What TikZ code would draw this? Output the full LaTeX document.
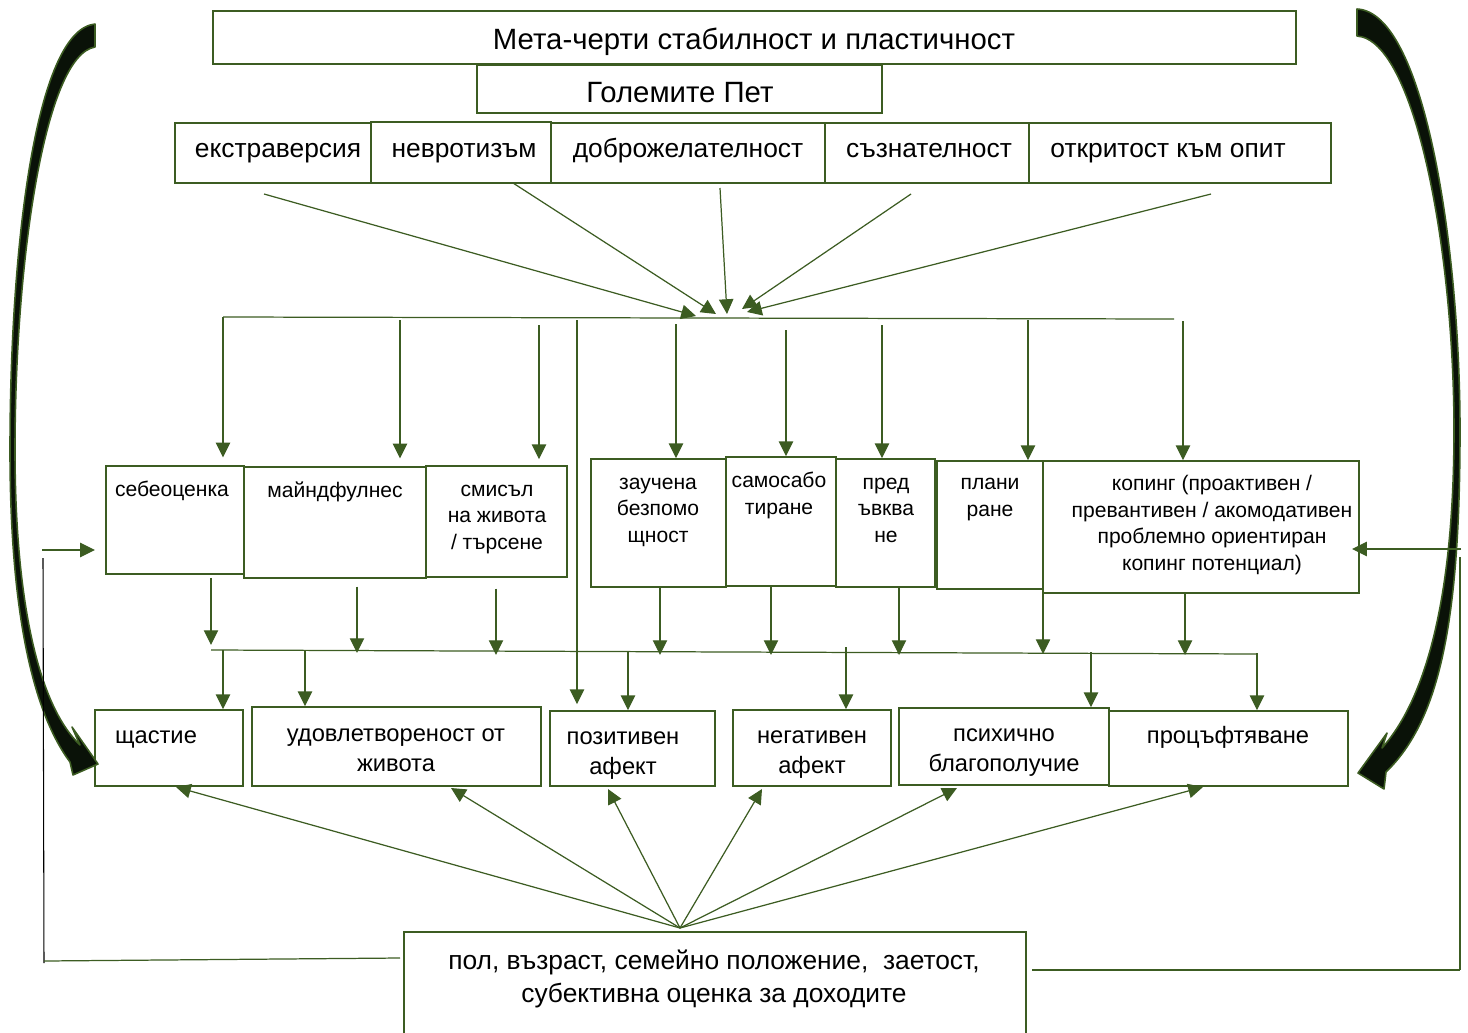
\documentclass[tikz,border=0pt]{standalone}
\usepackage{fontspec}
\setmainfont{Liberation Sans}
\usetikzlibrary{arrows.meta,fit}
\definecolor{grn}{RGB}{60,92,34}
\definecolor{blk}{RGB}{10,18,8}

\begin{document}
\begin{tikzpicture}[x=0.02cm,y=-0.02cm,
		box/.style={draw=grn, line width=0.9pt, inner sep=0pt},
		ln/.style={draw=grn, line width=0.7pt},
		arr/.style={ln, -{Triangle[length=8.4pt,width=8.2pt]}},
		swoop/.style={fill=blk, draw=grn, line width=0.9pt, line join=round},
		txt/.style={inner sep=0pt, anchor=base, align=center},
		topf/.style={txt, font=\fontsize{16.7}{20}\selectfont},
		fivef/.style={txt, font=\fontsize{15}{18}\selectfont},
		midf/.style={txt, font=\fontsize{12}{15}\selectfont},
		lowf/.style={txt, font=\fontsize{13.5}{17}\selectfont},
		demof/.style={txt, font=\fontsize{15}{18.7}\selectfont}]
				\useasboundingbox (0,0) rectangle (1468,1032);
				%defs
				\coordinate (f1) at (264,194);
				\coordinate (f2) at (513,183);
				\coordinate (f3) at (720,188);
				\coordinate (f4) at (911,194);
				\coordinate (f5) at (1211,194);
				\coordinate (h1) at (696,316);
				\coordinate (h2) at (716,314);
				\coordinate (h3) at (727,314);
				\coordinate (h4) at (742,309);
				\coordinate (h5) at (747,312);
				\coordinate (bus1l) at (223,317);
				\coordinate (bus1r) at (1174,319);
				\coordinate (d1) at (223,317);
				\coordinate (d2) at (400,320);
				\coordinate (d3) at (539,325);
				\coordinate (d4) at (577,320);
				\coordinate (d5) at (676,324);
				\coordinate (d6) at (786,330);
				\coordinate (d7) at (882,325);
				\coordinate (d8) at (1028,320);
				\coordinate (d9) at (1183,321);
				\coordinate (e1) at (211,645);
				\coordinate (e2) at (357,653);
				\coordinate (e3) at (496,655);
				\coordinate (e4) at (660,655);
				\coordinate (e5) at (771,655);
				\coordinate (e6) at (899,655);
				\coordinate (e7) at (1043,654);
				\coordinate (e8) at (1185,655);
				\coordinate (bus2l) at (211,650);
				\coordinate (bus2r) at (1257,654);
				\coordinate (g1) at (223,650);
				\coordinate (g2) at (305,650);
				\coordinate (g3) at (628,652);
				\coordinate (g4) at (846,647);
				\coordinate (g5) at (1091,652);
				\coordinate (g6) at (1257,653);
				\coordinate (apex) at (680,928);
				\coordinate (t1) at (176,787);
				\coordinate (t2) at (451,788);
				\coordinate (t3) at (608,789);
				\coordinate (t4) at (762,789);
				\coordinate (t5) at (957,788);
				\coordinate (t6) at (1203,787);
				\coordinate (lv1) at (43,558);
				\coordinate (lv2) at (44,963);
				\coordinate (lh1) at (44,961);
				\coordinate (lh2) at (400,958);
				\coordinate (la) at (42,550);
				\coordinate (la-e) at (95,550);
				\coordinate (ra) at (1461,549);
				\coordinate (ra-e) at (1352,549);
				\coordinate (rv1) at (1460,557);
				\coordinate (rv2) at (1460,970);
				\coordinate (rh1) at (1032,970);
				%boxes
				\node[box, fit={(213,11) (1296,64)}] (meta) {};
				\node[box, fit={(477,65) (882,113)}] (big5) {};
				\node[box, fit={(175,123) (371,183)}] (extra) {};
				\node[box, fit={(371,122) (551,183)}] (neuro) {};
				\node[box, fit={(551,123) (825,183)}] (agree) {};
				\node[box, fit={(825,123) (1029,183)}] (consc) {};
				\node[box, fit={(1029,123) (1331,183)}] (open) {};
				\node[box, fit={(106,466) (244,574)}] (sebe) {};
				\node[box, fit={(244,467) (426,578)}] (mind) {};
				\node[box, fit={(426,466) (567,577)}] (mean) {};
				\node[box, fit={(591,459) (726,587)}] (help) {};
				\node[box, fit={(726,457) (836,586)}] (sabo) {};
				\node[box, fit={(836,459) (935,587)}] (rumi) {};
				\node[box, fit={(937,461) (1043,589)}] (plan) {};
				\node[box, fit={(1043,461) (1359,593)}] (cope) {};
				\node[box, fit={(95,710) (243,786)}] (hap) {};
				\node[box, fit={(252,707) (541,786)}] (sat) {};
				\node[box, fit={(550,711) (715,786)}] (pos) {};
				\node[box, fit={(733,710) (891,786)}] (neg) {};
				\node[box, fit={(899,708) (1109,785)}] (well) {};
				\node[box, fit={(1109,711) (1348,786)}] (flour) {};
				\node[box, fit={(404,932) (1026,1050)}] (demo) {};
				%big arrows
				\filldraw[swoop] (95,24) .. controls (35,30) and (10,250) .. (10,450)
					.. controls (10,620) and (35,715) .. (70,762)
					-- (73,775) -- (98,764) -- (72,727) -- (80,745)
					.. controls (38,705) and (15,600) .. (15,450)
					.. controls (15,260) and (45,55) .. (95,47) -- cycle;
				\filldraw[swoop] (1357,9) .. controls (1425,12) and (1460,250) .. (1460,430)
					.. controls (1460,620) and (1440,720) .. (1386,772)
					-- (1384,789) -- (1358,773) -- (1387,733) -- (1382,748)
					.. controls (1425,700) and (1454,600) .. (1454,430)
					.. controls (1454,250) and (1415,40) .. (1357,36) -- cycle;
				%lines
				\foreach \i in {1,...,5}
					\draw[arr] (f\i) -- (h\i);
				\draw[ln] (bus1l) -- (bus1r);
				\foreach \c/\n/\s in {d1/sebe/4.5pt, d2/mind/4.5pt, d3/mean/3.4pt, d4/pos/3.4pt, d5/help/0pt, d6/sabo/0pt, d7/rumi/0pt, d8/plan/0pt, d9/cope/0pt}
					\draw[arr, shorten >=\s] (\c) -- (\c |- \n.north);
				\foreach \c/\n/\s in {e1/sebe/1.7pt, e2/mind/4.5pt, e3/mean/6.2pt, e4/help/0pt, e5/sabo/0pt, e6/rumi/0pt, e7/plan/0pt, e8/cope/0pt}
					\draw[arr, shorten <=\s] (\n.south -| \c) -- (\c);
				\draw[ln] (bus2l) -- (bus2r);
				\foreach \c/\n in {g1/hap, g2/sat, g3/pos, g4/neg, g5/well, g6/flour}
					\draw[arr] (\c) -- (\c |- \n.north);
				\foreach \i in {1,...,6}
					\draw[arr] (apex) -- (t\i);
				\draw[line width=0.6pt] (lv1) -- (lv2);
				\draw[ln] (lh1) -- (lh2);
				\draw[arr] (la) -- (la-e);
				\draw[arr] (ra) -- (ra-e);
				\draw[ln] (rv1) -- (rv2);
				\draw[ln] (rh1) -- (rv2);
				%Labels (multi-line labels sit on the baseline of their last line)
				\node[topf] (meta-t) at (754,49) {Мета-черти стабилност и пластичност};
				\node[topf] (big5-t) at (680,102) {Големите Пет};
				\node[fivef] (extra-t) at (278,157) {екстраверсия};
				\node[fivef] (neuro-t) at (464,157) {невротизъм};
				\node[fivef] (agree-t) at (688,157) {доброжелателност};
				\node[fivef] (consc-t) at (929,157) {съзнателност};
				\node[fivef] (open-t) at (1168,157) {откритост към опит};
				\node[midf] (sebe-t) at (172,496) {себеоценка};
				\node[midf] (mind-t) at (335,497) {майндфулнес};
				\node[midf] (mean-t) at (497,549) {смисъл\\на живота\\/ търсене};
				\node[midf] (help-t) at (658,542) {заучена\\безпомо\\щност};
				\node[midf] (sabo-t) at (779,514) {самосабо\\тиране};
				\node[midf] (rumi-t) at (886,542) {пред\\ъвква\\не};
				\node[midf] (plan-t) at (990,516) {плани\\ране};
				\node[midf] (cope-t) at (1212,570) {копинг (проактивен /\\превантивен / акомодативен\\проблемно ориентиран\\копинг потенциал)};
				\node[lowf] (hap-t) at (156,743) {щастие};
				\node[lowf] (sat-t) at (396,771) {удовлетвореност от\\живота};
				\node[lowf] (pos-t) at (623,774) {позитивен\\афект};
				\node[lowf] (neg-t) at (812,773) {негативен\\афект};
				\node[lowf] (well-t) at (1004,771) {психично\\благополучие};
				\node[lowf] (flour-t) at (1228,743) {процъфтяване};
				\node[demof] (demo-t) at (714,1002) {пол, възраст, семейно положение,~ заетост,\\субективна оценка за доходите};
			\end{tikzpicture}
\end{document}
